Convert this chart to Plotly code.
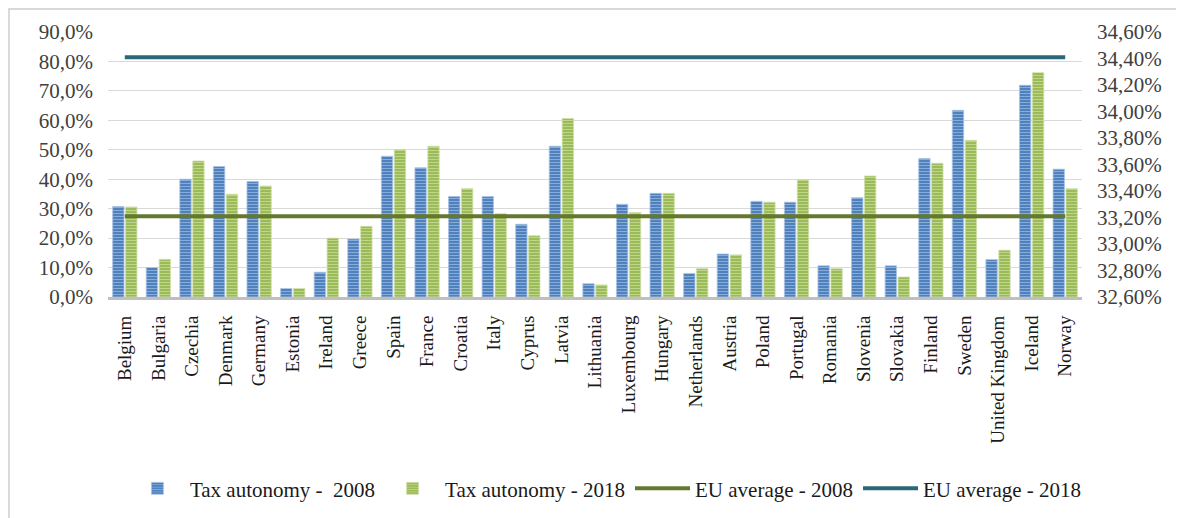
import plotly.graph_objects as go

countries = ["Belgium", "Bulgaria", "Czechia", "Denmark", "Germany", "Estonia", "Ireland",
             "Greece", "Spain", "France", "Croatia", "Italy", "Cyprus", "Latvia", "Lithuania",
             "Luxembourg", "Hungary", "Netherlands", "Austria", "Poland", "Portugal", "Romania",
             "Slovenia", "Slovakia", "Finland", "Sweden", "United Kingdom", "Iceland", "Norway"]

tax_autonomy_2008 = [0.307, 0.100, 0.400, 0.443, 0.392, 0.029, 0.084, 0.197, 0.478, 0.439,
                     0.341, 0.341, 0.247, 0.512, 0.045, 0.315, 0.352, 0.080, 0.146, 0.325,
                     0.322, 0.106, 0.337, 0.106, 0.470, 0.634, 0.127, 0.719, 0.434]
tax_autonomy_2018 = [0.306, 0.128, 0.462, 0.349, 0.377, 0.029, 0.200, 0.240, 0.501, 0.512,
                     0.368, 0.283, 0.208, 0.606, 0.041, 0.287, 0.352, 0.096, 0.143, 0.322,
                     0.399, 0.096, 0.411, 0.068, 0.454, 0.532, 0.159, 0.762, 0.368]

eu_average_2008 = 0.3321
eu_average_2018 = 0.3441

serif = "Liberation Serif, serif"
txt = "#404040"

fig = go.Figure()
fig.add_trace(go.Bar(
    x=countries, y=tax_autonomy_2008, name="Tax autonomy -  2008",
    marker=dict(color="#4F81BD", line=dict(color="#A9C3E6", width=0.8),
                pattern=dict(shape="-", fgcolor="#8DB0DF", bgcolor="#4F81BD", size=3, solidity=0.3)),
))
fig.add_trace(go.Bar(
    x=countries, y=tax_autonomy_2018, name="Tax autonomy - 2018",
    marker=dict(color="#9BBB59", line=dict(color="#CFE0A8", width=0.8),
                pattern=dict(shape="-", fgcolor="#C3D88F", bgcolor="#9BBB59", size=3, solidity=0.3)),
))
fig.add_trace(go.Scatter(
    x=countries, y=[eu_average_2008] * len(countries), name="EU average - 2008",
    mode="lines", line=dict(color="#66782F", width=4), yaxis="y2",
))
fig.add_trace(go.Scatter(
    x=countries, y=[eu_average_2018] * len(countries), name="EU average - 2018",
    mode="lines", line=dict(color="#296878", width=4), yaxis="y2",
))

fig.update_layout(
    template="none",
    width=1184, height=518,
    margin=dict(l=100, r=110, t=24, b=229, autoexpand=False),
    paper_bgcolor="white", plot_bgcolor="white",
    separators=", ",
    barmode="group", bargap=0.23, bargroupgap=0.12,
    font=dict(family=serif, color=txt, size=18),
    xaxis=dict(
        type="category", tickangle=-90, showgrid=False, ticks="",
        showline=True, linecolor="#BFBFBF", linewidth=3,
        tickfont=dict(family=serif, size=19, color="#1a1a1a"),
        ticklabelstandoff=8, automargin=False,
    ),
    yaxis=dict(
        range=[0, 0.9], dtick=0.1, tickformat=".1%",
        showgrid=True, gridcolor="#D9D9D9", gridwidth=1, zeroline=False,
        showline=False, ticks="",
        tickfont=dict(family=serif, size=21, color=txt),
        ticklabelstandoff=14, automargin=False,
    ),
    yaxis2=dict(
        overlaying="y", side="right",
        range=[0.326, 0.346], dtick=0.002, tickformat=".2%",
        showgrid=False, zeroline=False, showline=False, ticks="",
        tickfont=dict(family=serif, size=21, color=txt),
        ticklabelstandoff=14, automargin=False,
    ),
    legend=dict(
        orientation="h", xref="container", yref="container",
        x=0.505, xanchor="center", y=0.072, yanchor="middle",
        font=dict(family=serif, size=21, color="#1a1a1a"),
        bgcolor="rgba(0,0,0,0)", itemwidth=55,
    ),
    shapes=[dict(type="rect", xref="paper", yref="paper",
                 x0=-0.1016, x1=1.2, y0=-1.0, y1=1.0868,
                 line=dict(color="#D9D9D9", width=2), fillcolor="rgba(0,0,0,0)", layer="below")],
)

fig.write_html("out.html")
